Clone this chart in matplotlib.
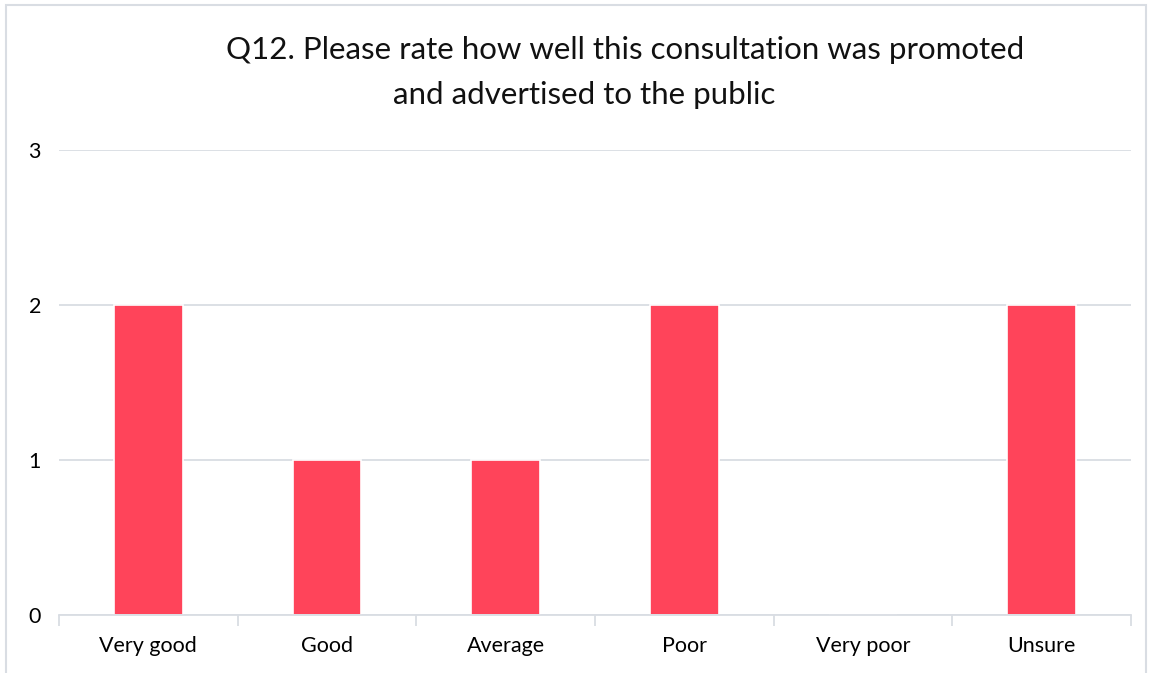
import matplotlib.pyplot as plt
from matplotlib.patches import Rectangle

categories = ["Very good", "Good", "Average", "Poor", "Very poor", "Unsure"]
counts = [2, 1, 1, 2, 0, 2]
y_ticks = [0, 1, 2, 3]

TITLE_LINES = ["Q12. Please rate how well this consultation was promoted",
               "and advertised to the public"]
BAR_COLOR = "#FF445A"
GRID_COLOR = "#D9DDE3"
FONT = ["Lato", "DejaVu Sans"]

plt.rcParams["font.family"] = FONT

fig = plt.figure(figsize=(11.52, 6.73), dpi=100)
fig.patches.append(Rectangle((6 / 1152, -0.01), 1140 / 1152, 1 - 5 / 673 + 0.01,
                             transform=fig.transFigure, fill=False,
                             edgecolor=GRID_COLOR, linewidth=1.5))

ax = fig.add_axes([59 / 1152, 1 - 615 / 673, (1131 - 59) / 1152, (615 - 150) / 673])

x = list(range(len(categories)))
ax.bar(x, counts, width=0.385, color=BAR_COLOR, edgecolor="white", linewidth=1.2, zorder=3)

ax.set_xlim(-0.5, len(categories) - 0.5)
ax.set_ylim(0, 3)
ax.set_yticks(y_ticks)
ax.set_yticklabels([str(v) for v in y_ticks], fontsize=15.5)
ax.yaxis.grid(True, color=GRID_COLOR, linewidth=1.3, zorder=0)
ax.tick_params(axis="y", length=0, pad=13)

ax.set_xticks(x)
ax.set_xticklabels(categories, fontsize=15.5)
ax.tick_params(axis="x", length=0, pad=15)
# category boundary ticks
ax.set_xticks([i - 0.5 for i in range(len(categories) + 1)], minor=True)
ax.tick_params(axis="x", which="minor", length=8, width=1.3, color=GRID_COLOR, direction="out")

for side in ["top", "right", "left"]:
    ax.spines[side].set_visible(False)
ax.spines["bottom"].set_color(GRID_COLOR)
ax.spines["bottom"].set_linewidth(1.3)
ax.spines["bottom"].set_zorder(4)

fig.text(625 / 1152, 1 - 50 / 673, TITLE_LINES[0], ha="center", va="center",
         fontsize=22.5, color="#111111")
fig.text(584 / 1152, 1 - 95 / 673, TITLE_LINES[1], ha="center", va="center",
         fontsize=22.5, color="#111111")

fig.savefig("out.png", dpi=100, facecolor="white")
